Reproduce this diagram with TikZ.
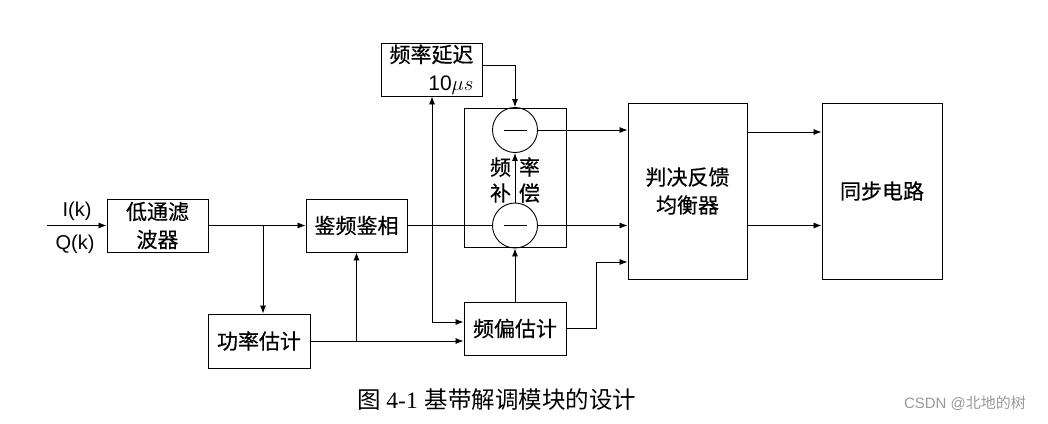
\documentclass[tikz,border=0pt]{standalone}
\usepackage{fontspec}
\setmainfont{Liberation Sans}
\newfontfamily\cjk{Noto Sans CJK SC}
\newfontfamily\cjkb[FakeBold=0.5]{Noto Sans CJK SC}
\newfontfamily\capfont{Liberation Serif}
\usetikzlibrary{arrows.meta}
\begin{document}
\begin{tikzpicture}[x=1pt, y=-1pt, >={Latex[length=8pt,width=6pt]},
		blk/.style = {draw, line width=0.9pt, inner sep=0pt, align=center, font=\cjkb\fontsize{21}{28}\selectfont},
		sub/.style = {draw, line width=0.9pt, circle, minimum size=45pt, inner sep=0pt},
		wire/.style = {line width=0.8pt}]
			\useasboundingbox (0,0) rectangle (1048,423);
			\node [blk, minimum width=101pt, minimum height=53pt] (lpf) at (157.5,225.5) {低通滤\\波器};
			\node [blk, minimum width=102pt, minimum height=54pt] (pwr) at (259,341) {功率估计};
			\node [blk, minimum width=101pt, minimum height=53pt] (fpd) at (356.5,225.5) {鉴频鉴相};
			\node [blk, minimum width=102pt, minimum height=53pt] (foe) at (515,328.5) {频偏估计};
			\node [blk, minimum width=101pt, minimum height=53pt, align=right] (dly) at (431.5,69.5) {频率延迟\\{\rmfamily\fontsize{21}{28}\selectfont 10}$\mu s$};
			\node [blk, minimum width=102pt, minimum height=139pt] (comp) at (515,177.5) {};
			\node [blk, minimum width=119pt, minimum height=176pt] (dfe) at (687.5,191) {判决反馈\\均衡器};
			\node [blk, minimum width=120pt, minimum height=176pt] (sync) at (882,191) {同步电路};
			\node [sub] (c1) at (515,130) {};
			\node [sub] (c2) at (515,225.5) {};
			\draw [wire] ([xshift=-11.5pt]c1.center) -- ([xshift=11.5pt]c1.center);
			\draw [wire] ([xshift=-11.5pt]c2.center) -- ([xshift=11.5pt]c2.center);
			\node [font=\cjkb\fontsize{21}{26}\selectfont, align=center] (clbl) at (515,180) {频\hspace{8pt}率\\补\hspace{8pt}偿};
			\coordinate (in) at (47,225.5);
			\node [font=\fontsize{20}{22}\selectfont] (ik) at (77,211) {I(k)};
			\node [font=\fontsize{20}{22}\selectfont] (qk) at (75,244) {Q(k)};
			\coordinate (b1) at (263,225.5);
			\coordinate (b2) at (432,225.5);
			\coordinate (k1) at (596,262);
			\draw [wire,->] (in) -- (lpf.west);
			\draw [wire,->] (lpf.east) -- (fpd.west);
			\draw [wire,->] (b1) -- (b1 |- pwr.north);
			\draw [wire,->] (pwr.east) -- (pwr.east -| foe.west);
			\draw [wire,->] (pwr.east -| fpd.south) -- (fpd.south);
			\draw [wire] (fpd.east) -- (c2.west);
			\draw [wire,<->] (b2 |- dly.south) -- (b2 |- 0,322) -- (foe.west |- 0,322);
			\draw [wire,->] ([yshift=4.5pt]dly.east) -| (c1.north);
			\draw [wire,->] (c2.north) -- (c1.south);
			\draw [wire,->] (foe.north) -- (c2.south);
			\draw [wire,->] (c1.east) -- (c1 -| dfe.west);
			\draw [wire,->] (c2.east) -- (c2 -| dfe.west);
			\draw [wire,->] (foe.east) -| (k1) -- (k1 -| dfe.west);
			\draw [wire,->] ([yshift=-2pt]dfe.east |- c1) -- ([yshift=-2pt]sync.west |- c1);
			\draw [wire,->] (dfe.east |- c2) -- (sync.west |- c2);
			\node [font=\cjk\fontsize{23.5}{28}\selectfont] (cap) at (497,400) {图 {\capfont 4-1}\hspace{7pt}基带解调模块的设计};
			\node [font=\cjk\fontsize{15}{18}\selectfont, text=black!40] (wm) at (965,403) {{\rmfamily CSDN @}北地的树};
		\end{tikzpicture}
\end{document}
